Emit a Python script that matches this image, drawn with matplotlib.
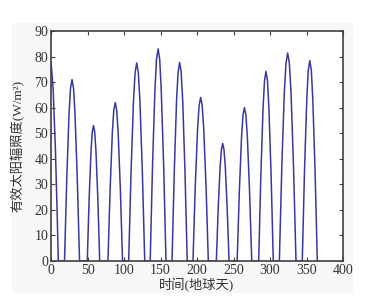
import matplotlib
matplotlib.use("Agg")
import matplotlib.pyplot as plt
from matplotlib.patches import Rectangle

# days (Earth days) and effective solar irradiance, hump by hump
days = [0, 3, 6, 8.5, 10,
        18.5, 21.6, 24.7, 26.7, 28.8, 30.9, 32.9, 36.0, 39.1,
        49.7, 52.2, 54.8, 56.5, 58.2, 59.9, 61.6, 64.2, 66.7,
        78, 81, 84, 86, 88, 90, 92, 95, 98,
        106.4, 109.7, 113.0, 115.2, 117.4, 119.6, 121.8, 125.1, 128.4,
        135.9, 139.1, 142.4, 144.5, 146.7, 148.9, 151.0, 154.3, 157.5,
        165.8, 168.9, 172.0, 174.1, 176.2, 178.3, 180.4, 183.5, 186.6,
        194.5, 197.6, 200.8, 202.9, 205, 207.1, 209.2, 212.4, 215.5,
        226.5, 229.1, 231.7, 233.5, 235.2, 236.9, 238.7, 241.3, 243.9,
        255, 258, 261, 263, 265, 267, 269, 272, 275,
        284.5, 287.5, 290.5, 292.5, 294.5, 296.5, 298.5, 301.5, 304.5,
        312.8, 316.2, 319.6, 321.9, 324.2, 326.5, 328.8, 332.2, 335.6,
        344.2, 347.3, 350.4, 352.4, 354.5, 356.6, 358.6, 361.7, 364.8,
        365]
irradiance = [78, 67, 44, 18, 0,
              0, 32.2, 57.5, 67.5, 71, 67.5, 57.5, 32.2, 0,
              0, 24.1, 42.9, 50.4, 53, 50.4, 42.9, 24.1, 0,
              0, 28.1, 50.2, 59, 62, 59, 50.2, 28.1, 0,
              0, 35.2, 62.7, 73.7, 77.5, 73.7, 62.7, 35.2, 0,
              0, 37.7, 67.1, 78.9, 83, 78.9, 67.1, 37.7, 0,
              0, 35.3, 62.9, 73.9, 77.7, 73.9, 62.9, 35.3, 0,
              0, 29.1, 51.8, 60.9, 64, 60.9, 51.8, 29.1, 0,
              0, 20.9, 37.2, 43.7, 46, 43.7, 37.2, 20.9, 0,
              0, 27.2, 48.5, 57.1, 60, 57.1, 48.5, 27.2, 0,
              0, 33.7, 60.0, 70.6, 74.2, 70.6, 60.0, 33.7, 0,
              0, 37.0, 65.9, 77.4, 81.4, 77.4, 65.9, 37.0, 0,
              0, 35.6, 63.4, 74.6, 78.4, 74.6, 63.4, 35.6, 0,
              0]

xticks = [0, 50, 100, 150, 200, 250, 300, 350, 400]
yticks = [0, 10, 20, 30, 40, 50, 60, 70, 80, 90]

fonts = ["Liberation Serif", "Noto Sans CJK SC"]
plt.rcParams["font.family"] = fonts

fig = plt.figure(figsize=(3.77, 2.98), dpi=100)
fig.patch.set_facecolor("white")
# faint grey figure panel behind the axes (MATLAB export look)
fig.add_artist(Rectangle((12 / 377, 1 - 293 / 298), 341 / 377, 270 / 298,
                         transform=fig.transFigure, facecolor="#f7f7f7",
                         edgecolor="none", zorder=-5))

ax = fig.add_axes([51 / 377, 37 / 298, 292 / 377, 230 / 298])
ax.set_zorder(1)
ax.set_facecolor("white")
ax.plot(days, irradiance, color="#3838a0", linewidth=1.1, zorder=1)

ax.set_xlim(0, 400)
ax.set_ylim(0, 90)
ax.set_xticks(xticks)
ax.set_yticks(yticks)
ax.tick_params(direction="in", length=3, top=True, right=True,
               labelsize=10, color="#404040", labelcolor="#333333", pad=2)
for s in ax.spines.values():
    s.set_color("#404040")
    s.set_linewidth(1.2)
    s.set_zorder(3)

ax.set_xlabel("时间(地球天)", fontsize=9.5, color="#333333", labelpad=1)
ax.set_ylabel("有效太阳辐照度(W/m²)", fontsize=9.5, color="#333333", labelpad=7)

fig.savefig("out.png", dpi=100)
